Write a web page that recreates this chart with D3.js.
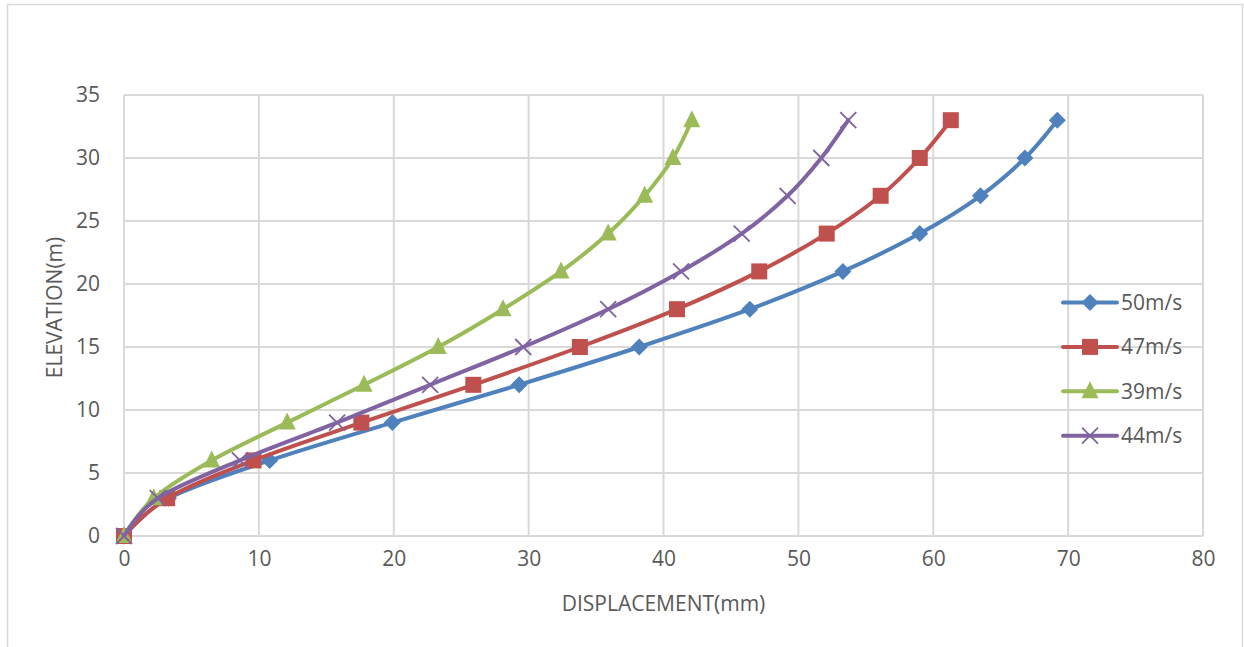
<!DOCTYPE html>
<html>
<head>
<meta charset="utf-8">
<script src="https://cdn.jsdelivr.net/npm/d3@7"></script>
<style>
  body { margin: 0; background: #fff; }
  text { font-family: "Open Sans", Lato, sans-serif; fill: #595959; }
</style>
</head>
<body>
<div id="chart"></div>
<script>
// elevation levels (m), shared by all series
var elevation = [0, 3, 6, 9, 12, 15, 18, 21, 24, 27, 30, 33];

// displacement (mm) per wind speed
var disp50 = [0, 3.3, 10.8, 19.9, 29.3, 38.2, 46.4, 53.3, 59.0, 63.5, 66.8, 69.2];
var disp47 = [0, 3.2, 9.6, 17.6, 25.9, 33.8, 41.0, 47.1, 52.1, 56.1, 59.0, 61.3];
var disp39 = [0, 2.2, 6.5, 12.1, 17.8, 23.3, 28.1, 32.4, 35.9, 38.6, 40.7, 42.1];
var disp44 = [0, 2.5, 8.6, 15.8, 22.7, 29.6, 35.9, 41.3, 45.8, 49.2, 51.7, 53.7];

var seriesNames = ["50m/s", "47m/s", "39m/s", "44m/s"];
var xTicks = [0, 10, 20, 30, 40, 50, 60, 70, 80];
var yTicks = [0, 5, 10, 15, 20, 25, 30, 35];

var colors = ["#4F81BD", "#C0504D", "#9BBB59", "#8064A2"];
var shapes = ["diamond", "square", "triangle", "cross"];

var W = 1244, H = 647;
var margin = { top: 95, right: 41, bottom: 111, left: 124 },
    width = W - margin.left - margin.right,
    height = H - margin.top - margin.bottom;

var svg = d3.select("#chart")
    .append("svg")
    .attr("width", W)
    .attr("height", H);

// outer chart frame
svg.append("rect")
    .attr("x", 7.5).attr("y", 4.5)
    .attr("width", 1235).attr("height", 660)
    .attr("fill", "none")
    .attr("stroke", "#D9D9D9")
    .attr("stroke-width", 1.5);

var g = svg.append("g")
    .attr("transform", "translate(" + margin.left + "," + margin.top + ")");

var x = d3.scaleLinear().domain([0, 80]).range([0, width]);
var y = d3.scaleLinear().domain([0, 35]).range([height, 0]);

// gridlines
g.append("g")
    .selectAll("line")
    .data(xTicks)
    .enter().append("line")
    .attr("x1", d => x(d)).attr("x2", d => x(d))
    .attr("y1", 0).attr("y2", height)
    .attr("stroke", "#D9D9D9").attr("stroke-width", 2);

g.append("g")
    .selectAll("line")
    .data(yTicks)
    .enter().append("line")
    .attr("x1", 0).attr("x2", width)
    .attr("y1", d => y(d)).attr("y2", d => y(d))
    .attr("stroke", "#D9D9D9").attr("stroke-width", 2);

// axes (labels only, Excel style)
var xAxis = g.append("g")
    .attr("transform", "translate(0," + height + ")")
    .call(d3.axisBottom(x).tickValues(xTicks).tickSize(0).tickPadding(15));
xAxis.select(".domain").remove();

var yAxis = g.append("g")
    .call(d3.axisLeft(y).tickValues(yTicks).tickSize(0).tickPadding(24));
yAxis.select(".domain").remove();

svg.selectAll("g").attr("font-family", null).attr("font-size", null);
svg.selectAll(".tick text").style("font-size", "21px").attr("fill", "#595959");

// axis titles
svg.append("text")
    .attr("x", margin.left + x(40))
    .attr("y", 611)
    .attr("text-anchor", "middle")
    .style("font-size", "21px")
    .text("DISPLACEMENT(mm)");

svg.append("text")
    .attr("transform", "translate(62," + (margin.top + height / 2 - 8) + ") rotate(-90)")
    .attr("text-anchor", "middle")
    .style("font-size", "21px")
    .text("ELEVATION(m)");

var allDisp = [disp50, disp47, disp39, disp44];

var line = d3.line()
    .x(d => x(d[0]))
    .y(d => y(d[1]))
    .curve(d3.curveCardinal.tension(0));

function drawMarker(sel, shape, color, cx, cy) {
    if (shape === "diamond") {
        sel.append("path")
            .attr("d", "M0,-8.5L8.5,0L0,8.5L-8.5,0Z")
            .attr("transform", "translate(" + cx + "," + cy + ")")
            .attr("fill", color);
    } else if (shape === "square") {
        sel.append("rect")
            .attr("x", cx - 8).attr("y", cy - 8)
            .attr("width", 16).attr("height", 16)
            .attr("fill", color);
    } else if (shape === "triangle") {
        sel.append("path")
            .attr("d", "M0,-10L8.5,7L-8.5,7Z")
            .attr("transform", "translate(" + cx + "," + cy + ")")
            .attr("fill", color);
    } else {
        sel.append("path")
            .attr("d", "M-8,-8L8,8M-8,8L8,-8")
            .attr("transform", "translate(" + cx + "," + cy + ")")
            .attr("stroke", color).attr("stroke-width", 1.8)
            .attr("fill", "none");
    }
}

allDisp.forEach(function(disp, i) {
    var pts = disp.map((v, k) => [v, elevation[k]]);
    var sg = g.append("g");
    sg.append("path")
        .datum(pts)
        .attr("d", line)
        .attr("fill", "none")
        .attr("stroke", colors[i])
        .attr("stroke-width", 4)
        .attr("stroke-linecap", "round");
    pts.forEach(function(p) {
        drawMarker(sg, shapes[i], colors[i], x(p[0]), y(p[1]));
    });
});

// legend
var legend = svg.append("g").attr("transform", "translate(1063,302.5)");
seriesNames.forEach(function(name, i) {
    var ly = i * 44.4;
    var lg = legend.append("g");
    lg.append("line")
        .attr("x1", 0).attr("x2", 54)
        .attr("y1", ly).attr("y2", ly)
        .attr("stroke", colors[i]).attr("stroke-width", 4)
        .attr("stroke-linecap", "round");
    drawMarker(lg, shapes[i], colors[i], 27, ly);
    lg.append("text")
        .attr("x", 58).attr("y", ly)
        .attr("dy", "0.35em")
        .style("font-size", "21px")
        .text(name);
});
</script>
</body>
</html>
